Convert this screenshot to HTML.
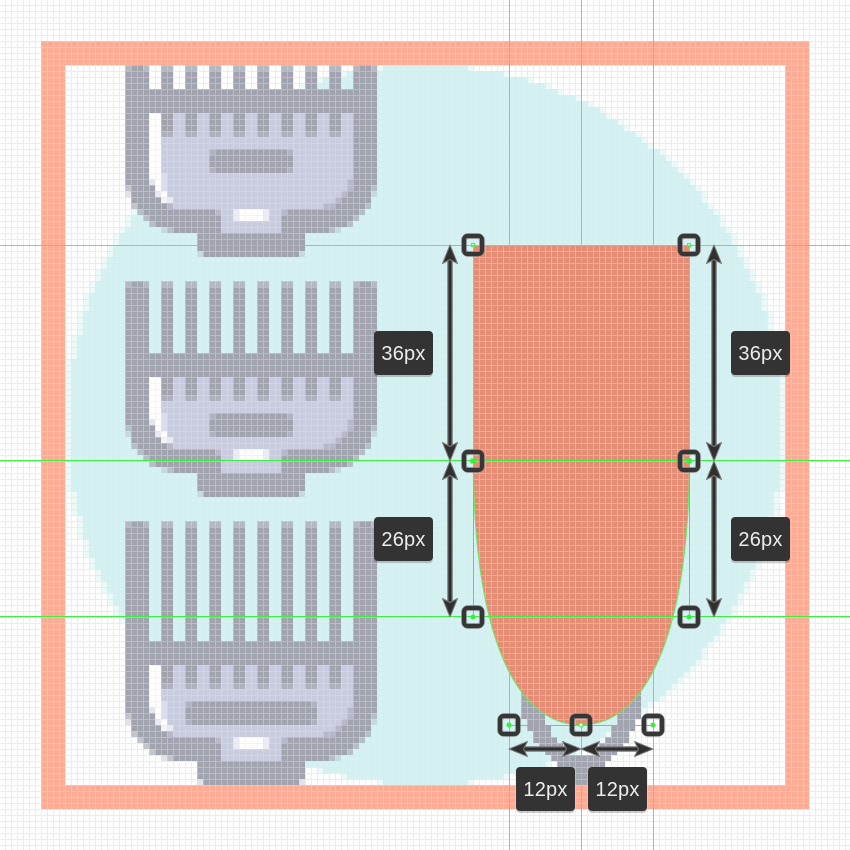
<!DOCTYPE html>
<html>
<head>
<meta charset="utf-8">
<style>
html,body{margin:0;padding:0;background:#fff;width:850px;height:850px;overflow:hidden}
svg{display:block}
text{font-family:"Liberation Sans",sans-serif;font-size:20px;fill:#ececec;text-anchor:middle;letter-spacing:.2px}
</style>
</head>
<body>
<svg width="850" height="850" viewBox="0 0 850 850" xmlns="http://www.w3.org/2000/svg">
<defs>
  <pattern id="grid" patternUnits="userSpaceOnUse" x="5" y="5" width="6" height="6">
    <rect x="0" y="0" width="1" height="6" fill="#e4e2e6" fill-opacity=".4"/>
    <rect x="1" y="0" width="5" height="1" fill="#e4e2e6" fill-opacity=".4"/>
  </pattern>
  <pattern id="gridbg" patternUnits="userSpaceOnUse" x="5" y="5" width="6" height="6">
    <rect x="0" y="0" width="1" height="6" fill="#f2f2f2"/>
    <rect x="1" y="0" width="5" height="1" fill="#f2f2f2"/>
  </pattern>
  <pattern id="tg" patternUnits="userSpaceOnUse" x="161" y="0" width="24" height="6">
    <rect x="0" y="0" width="12" height="6" fill="#a1a3af"/>
  </pattern>
  <pattern id="tm" patternUnits="userSpaceOnUse" x="161" y="0" width="24" height="6">
    <rect x="0" y="0" width="12" height="6" fill="#adb0bc"/>
  </pattern>
  <pattern id="tt" patternUnits="userSpaceOnUse" x="161" y="0" width="24" height="6">
    <rect x="0" y="0" width="12" height="6" fill="#b4b8c0"/>
  </pattern>
  <clipPath id="inner"><rect x="65" y="65" width="720" height="720"/></clipPath>

  <path id="qs" d="M0 0V-360H42v6H78v6H102v6H120v6H132v6H150v6H162v6H174v6H180v6H192v6H198v6H210v6H216v6H222v6H234v6H240v6H246v6H252v6H258v6H264v6H270v6H276v6H276v6H282v6H288v6H294v6H294v6H300v6H306v6H306v6H312v6H312v6H318v6H318v6H324v6H324v6H330v6H330v6H336v6H336v6H336v6H342v6H342v6H342v6H342v6H348v6H348v6H348v6H348v6H354V0Z"/>
  <path id="qp" d="M0 0V-360H48v6H84v6H108v6H126v6H138v6H156v6H168v6H180v6H186v6H198v6H204v6H216v6H222v6H228v6H240v6H246v6H252v6H258v6H264v6H270v6H276v6H282v6H282v6H288v6H294v6H300v6H300v6H306v6H312v6H312v6H318v6H318v6H324v6H324v6H330v6H330v6H336v6H336v6H342v6H342v6H342v6H348v6H348v6H348v6H348v6H354v6H354v6H354v6H354v6H360V0Z"/>

  <g id="bottom" shape-rendering="crispEdges">
    <path fill="#a1a3af" d="M131 185H371V203H365V209H359V215H353V221H347V227H329V233H305V251H299V257H203V251H197V233H173V227H155V221H149V215H143V209H137V203H131Z"/>
    <g fill="#a1a3af" fill-opacity=".65">
      <rect x="125" y="185" width="6" height="6"/><rect x="371" y="185" width="6" height="6"/>
      <rect x="131" y="203" width="6" height="6"/><rect x="365" y="203" width="6" height="6"/>
      <rect x="137" y="209" width="6" height="6"/><rect x="359" y="209" width="6" height="6"/>
      <rect x="143" y="215" width="6" height="6"/><rect x="353" y="215" width="6" height="6"/>
      <rect x="149" y="221" width="6" height="6"/><rect x="347" y="221" width="6" height="6"/>
      <rect x="167" y="227" width="6" height="6"/><rect x="329" y="227" width="6" height="6"/>
    </g>
    <g fill="#a1a3af" fill-opacity=".3">
      <rect x="125" y="191" width="6" height="6"/><rect x="371" y="191" width="6" height="6"/>
      <rect x="161" y="227" width="6" height="6"/><rect x="335" y="227" width="6" height="6"/>
      <rect x="197" y="251" width="6" height="6"/><rect x="299" y="251" width="6" height="6"/>
    </g>
    <g fill="#c9cbdf">
      <rect x="167" y="173" width="186" height="6"/>
      <rect x="167" y="179" width="180" height="12"/>
      <rect x="167" y="191" width="174" height="6"/>
      <rect x="173" y="197" width="162" height="6"/>
      <rect x="173" y="203" width="150" height="6"/>
      <rect x="221" y="209" width="60" height="24"/>
    </g>
    <g fill="#b6b8c9">
      <rect x="347" y="179" width="6" height="12"/>
      <rect x="341" y="191" width="6" height="6"/>
      <rect x="335" y="197" width="6" height="6"/>
      <rect x="323" y="203" width="12" height="6"/>
      <rect x="167" y="203" width="6" height="6"/>
      <rect x="215" y="209" width="6" height="6"/>
      <rect x="281" y="209" width="6" height="6"/>
    </g>
    <rect x="161" y="173" width="6" height="18" fill="#dcddea"/>
    <rect x="149" y="173" width="12" height="6" fill="#fff"/>
    <rect x="149" y="179" width="6" height="6" fill="#e6e6ec"/>
    <rect x="155" y="179" width="6" height="12" fill="#fff"/>
    <rect x="155" y="191" width="6" height="6" fill="#e9e9ee"/>
    <rect x="161" y="191" width="6" height="6" fill="#fff"/>
    <rect x="161" y="197" width="6" height="6" fill="#f4f4f7"/>
    <rect x="167" y="197" width="6" height="6" fill="#e9e9ef"/>
    <rect x="239" y="209" width="24" height="12" fill="#fff"/>
    <rect x="233" y="209" width="6" height="12" fill="#ecedf3"/>
    <rect x="263" y="209" width="6" height="12" fill="#ecedf3"/>
  </g>

  <g id="anchor">
    <rect x="-9" y="-9" width="18" height="18" rx="4.5" fill="none" stroke="#777" stroke-opacity=".7" stroke-width="6"/>
    <rect x="-9" y="-9" width="18" height="18" rx="3.5" fill="none" stroke="#363636" stroke-width="4"/>
  </g>
  <path id="head" d="M0 0L7.5 18.5L0 14.5L-7.5 18.5Z" fill="#303030" stroke="#7a7a7a" stroke-width="1" stroke-linejoin="round"/>
</defs>

<rect width="850" height="850" fill="#fff"/>
<rect width="850" height="850" fill="url(#gridbg)"/>

<!-- pixelated circle -->
<g transform="translate(425 425)" shape-rendering="crispEdges" fill="#d5f1f2">
  <g fill-opacity=".45">
    <use href="#qp"/>
    <use href="#qp" transform="scale(-1 1)"/>
    <use href="#qp" transform="scale(1 -1)"/>
    <use href="#qp" transform="scale(-1 -1)"/>
  </g>
  <use href="#qs"/>
  <use href="#qs" transform="scale(-1 1)"/>
  <use href="#qs" transform="scale(1 -1)"/>
  <use href="#qs" transform="scale(-1 -1)"/>
</g>

<g clip-path="url(#inner)">
  <!-- fourth clipper peeking out below the orange shape -->
  <path shape-rendering="crispEdges" fill="#a1a3af" d="M521 680V719H527V731H533V743H539V749H545V755H551V761H557V785H605V761H611V755H617V749H623V743H629V731H635V719H641V680H617V725H611V737H605V743H599V749H593V755H569V749H563V743H557V737H551V725H545V680Z"/>

  <!-- comb 1 -->
  <g shape-rendering="crispEdges">
    <rect x="125" y="71" width="24" height="114" fill="#a1a3af"/><rect x="353" y="71" width="24" height="114" fill="#a1a3af"/>
    <rect x="125" y="65" width="6" height="6" fill="#b4b8c0"/><rect x="131" y="65" width="12" height="6" fill="#a1a3af"/><rect x="143" y="65" width="6" height="6" fill="#b4b8c0"/>
    <rect x="353" y="65" width="6" height="6" fill="#b4b8c0"/><rect x="359" y="65" width="12" height="6" fill="#a1a3af"/><rect x="371" y="65" width="6" height="6" fill="#b4b8c0"/>
    <rect x="161" y="65" width="180" height="6" fill="url(#tt)"/>
    <rect x="161" y="71" width="180" height="18" fill="url(#tg)"/>
    <rect x="149" y="89" width="204" height="24" fill="#a1a3af"/>
    <rect x="149" y="113" width="204" height="60" fill="#c9cbdf"/>
    <rect x="149" y="113" width="12" height="60" fill="#fff"/>
    <rect x="161" y="113" width="180" height="18" fill="url(#tg)"/>
    <rect x="161" y="131" width="180" height="6" fill="url(#tm)"/>
    <rect x="209" y="149" width="84" height="24" fill="#b0b2c2"/>
    <rect x="215" y="149" width="72" height="24" fill="#a1a3af"/><rect x="209" y="155" width="84" height="12" fill="#a1a3af"/>
  </g>
  <use href="#bottom"/>

  <!-- comb 2 -->
  <g shape-rendering="crispEdges">
    <rect x="125" y="287" width="24" height="138" fill="#a1a3af"/><rect x="353" y="287" width="24" height="138" fill="#a1a3af"/>
    <rect x="125" y="281" width="6" height="6" fill="#b4b8c0"/><rect x="131" y="281" width="12" height="6" fill="#a1a3af"/><rect x="143" y="281" width="6" height="6" fill="#b4b8c0"/>
    <rect x="353" y="281" width="6" height="6" fill="#b4b8c0"/><rect x="359" y="281" width="12" height="6" fill="#a1a3af"/><rect x="371" y="281" width="6" height="6" fill="#b4b8c0"/>
    <rect x="161" y="281" width="180" height="6" fill="url(#tt)"/>
    <rect x="161" y="287" width="180" height="66" fill="url(#tg)"/>
    <rect x="149" y="353" width="204" height="24" fill="#a1a3af"/>
    <rect x="149" y="377" width="204" height="36" fill="#c9cbdf"/>
    <rect x="149" y="377" width="12" height="36" fill="#fff"/>
    <rect x="161" y="377" width="180" height="18" fill="url(#tg)"/>
    <rect x="161" y="395" width="180" height="6" fill="url(#tm)"/>
  </g>
  <use href="#bottom" transform="translate(0 240)"/>
  <g shape-rendering="crispEdges">
    <rect x="209" y="413" width="84" height="24" fill="#b0b2c2"/>
    <rect x="215" y="413" width="72" height="24" fill="#a1a3af"/><rect x="209" y="419" width="84" height="12" fill="#a1a3af"/>
  </g>

  <!-- comb 3 -->
  <g shape-rendering="crispEdges">
    <rect x="125" y="527" width="24" height="186" fill="#a1a3af"/><rect x="353" y="527" width="24" height="186" fill="#a1a3af"/>
    <rect x="125" y="521" width="6" height="6" fill="#b4b8c0"/><rect x="131" y="521" width="12" height="6" fill="#a1a3af"/><rect x="143" y="521" width="6" height="6" fill="#b4b8c0"/>
    <rect x="353" y="521" width="6" height="6" fill="#b4b8c0"/><rect x="359" y="521" width="12" height="6" fill="#a1a3af"/><rect x="371" y="521" width="6" height="6" fill="#b4b8c0"/>
    <rect x="161" y="521" width="180" height="6" fill="url(#tt)"/>
    <rect x="161" y="527" width="180" height="114" fill="url(#tg)"/>
    <rect x="149" y="641" width="204" height="24" fill="#a1a3af"/>
    <rect x="149" y="665" width="204" height="36" fill="#c9cbdf"/>
    <rect x="149" y="665" width="12" height="36" fill="#fff"/>
    <rect x="161" y="665" width="180" height="18" fill="url(#tg)"/>
    <rect x="161" y="683" width="180" height="6" fill="url(#tm)"/>
  </g>
  <use href="#bottom" transform="translate(0 528)"/>
  <g shape-rendering="crispEdges">
    <rect x="185" y="701" width="132" height="24" fill="#b0b2c2"/>
    <rect x="191" y="701" width="120" height="24" fill="#a1a3af"/><rect x="185" y="707" width="132" height="12" fill="#a1a3af"/>
  </g>
</g>

<!-- frame -->
<path fill="#fdab94" fill-rule="evenodd" d="M41 41H809V809H41ZM65 65V785H785V65Z"/>

<!-- orange shape -->
<path fill="#e58c74" d="M473 245H689V461C689 617 653 725 581 725C509 725 473 617 473 461Z"/>

<!-- pixel grid -->
<rect width="850" height="850" fill="url(#grid)"/>

<path fill="none" stroke="#5fee5f" stroke-width="1" d="M473.5 245.5H689.5V461C689 617 653 725 581 725C509 725 473 617 473.5 461Z"/>

<!-- guides -->
<g shape-rendering="crispEdges" stroke="#66e866" stroke-width="1">
  <path d="M0 245.5H850M509.5 0V850M581.5 0V850M653.5 0V850"/>
</g>
<g shape-rendering="crispEdges" stroke="#3cf040" stroke-width="1">
  <path d="M0 460.5H850M0 616.5H850"/>
  <path d="M473.5 461V617M689.5 461V617M509 725.5H653"/>
</g>

<!-- arrows -->
<g>
  <path d="M450 250V456M450 466V612M714 250V456M714 466V612M514 749H576M586 749H648" stroke="#787878" stroke-width="5.5" fill="none"/>
  <path d="M450 250V456M450 466V612M714 250V456M714 466V612M514 749H576M586 749H648" stroke="#2e2e2e" stroke-width="3" fill="none"/>
  <use href="#head" transform="translate(450 245)"/>
  <use href="#head" transform="translate(450 461) rotate(180)"/>
  <use href="#head" transform="translate(450 461)"/>
  <use href="#head" transform="translate(450 617) rotate(180)"/>
  <use href="#head" transform="translate(714 245)"/>
  <use href="#head" transform="translate(714 461) rotate(180)"/>
  <use href="#head" transform="translate(714 461)"/>
  <use href="#head" transform="translate(714 617) rotate(180)"/>
  <use href="#head" transform="translate(509 749) rotate(-90)"/>
  <use href="#head" transform="translate(581 749) rotate(90)"/>
  <use href="#head" transform="translate(581 749) rotate(-90)"/>
  <use href="#head" transform="translate(653 749) rotate(90)"/>
</g>

<!-- anchors -->
<use href="#anchor" x="473" y="245"/>
<use href="#anchor" x="689" y="245"/>
<use href="#anchor" x="473" y="461"/>
<use href="#anchor" x="689" y="461"/>
<use href="#anchor" x="473" y="617"/>
<use href="#anchor" x="689" y="617"/>
<use href="#anchor" x="509" y="725"/>
<use href="#anchor" x="581" y="725"/>
<use href="#anchor" x="653" y="725"/>
<rect x="471.5" y="243.5" width="3" height="3" fill="none" stroke="#4cf04f"/>
<rect x="687.5" y="243.5" width="3" height="3" fill="none" stroke="#4cf04f"/>
<rect x="470.5" y="458.5" width="5" height="5" fill="#33f03a"/>
<rect x="686.5" y="458.5" width="5" height="5" fill="#33f03a"/>
<circle cx="473" cy="617" r="2.5" fill="#33f03a"/>
<circle cx="689" cy="617" r="2.5" fill="#33f03a"/>
<circle cx="509" cy="725" r="2.5" fill="#33f03a"/>
<circle cx="653" cy="725" r="2.5" fill="#33f03a"/>
<circle cx="581" cy="725" r="2" fill="#fff" stroke="#33f03a"/>

<!-- labels -->
<g fill="#000" fill-opacity=".2">
  <rect x="374" y="333" width="59" height="44" rx="4"/>
  <rect x="731" y="333" width="59" height="44" rx="4"/>
  <rect x="374" y="519" width="59" height="44" rx="4"/>
  <rect x="731" y="519" width="59" height="44" rx="4"/>
  <rect x="516" y="769" width="59" height="44" rx="4"/>
  <rect x="588" y="769" width="59" height="44" rx="4"/>
</g>
<g fill="#333">
  <rect x="374" y="331" width="59" height="44" rx="4"/>
  <rect x="731" y="331" width="59" height="44" rx="4"/>
  <rect x="374" y="517" width="59" height="44" rx="4"/>
  <rect x="731" y="517" width="59" height="44" rx="4"/>
  <rect x="516" y="767" width="59" height="44" rx="4"/>
  <rect x="588" y="767" width="59" height="44" rx="4"/>
</g>
<text x="403.5" y="360">36px</text>
<text x="760.5" y="360">36px</text>
<text x="403.5" y="546">26px</text>
<text x="760.5" y="546">26px</text>
<text x="545.5" y="796">12px</text>
<text x="617.5" y="796">12px</text>
</svg>
</body>
</html>
